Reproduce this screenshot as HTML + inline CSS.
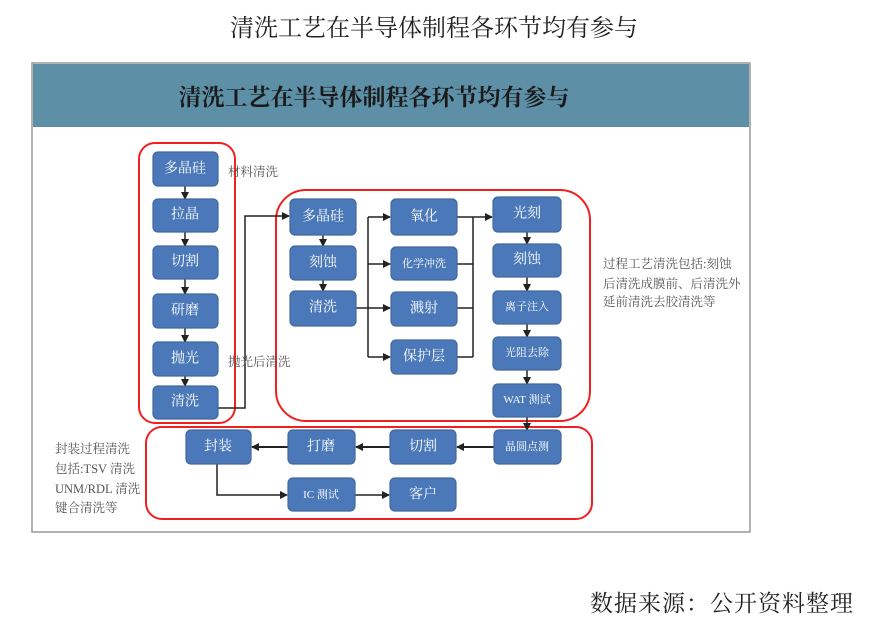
<!DOCTYPE html>
<html><head><meta charset="utf-8"><style>
body{margin:0;background:#fff;width:869px;height:629px;overflow:hidden}
svg text{font-family:"Liberation Serif","Noto Serif CJK SC","Noto Sans CJK SC",serif}
.b{fill:#4a78b8;stroke:#44689c;stroke-width:1.2}
.t{fill:#fff;font-size:14px;text-anchor:middle;dominant-baseline:central}
.s{font-size:11px}
.l{stroke:#222;stroke-width:1.5;fill:none}
.r{fill:none;stroke:#f02020;stroke-width:2}
.a{font-size:12.5px;fill:#555}
</style></head><body>
<svg width="869" height="629" viewBox="0 0 869 629">
<defs><marker id="m" markerWidth="8" markerHeight="8" refX="7" refY="4" orient="auto" markerUnits="userSpaceOnUse"><path d="M0,0 L8,4 L0,8 z" fill="#222"/></marker></defs>
<text x="434" y="36" font-size="24" text-anchor="middle" fill="#222">清洗工艺在半导体制程各环节均有参与</text>
<rect x="32" y="63" width="718" height="469" fill="#fff" stroke="#999" stroke-width="1.5"/>
<rect x="33" y="64" width="716" height="63" fill="#5d8fa6"/>
<text x="374" y="105" font-size="23" font-weight="bold" text-anchor="middle" fill="#1a1a1a">清洗工艺在半导体制程各环节均有参与</text>

<rect class="r" x="139" y="143" width="96" height="280" rx="16"/>
<rect class="r" x="276" y="190" width="314" height="231" rx="30"/>
<rect class="r" x="146" y="427" width="446" height="92" rx="16"/>

<g class="l">
<path d="M185,186V199" marker-end="url(#m)"/><path d="M185,232V246" marker-end="url(#m)"/>
<path d="M185,279V294" marker-end="url(#m)"/><path d="M185,328V342" marker-end="url(#m)"/>
<path d="M185,376V386" marker-end="url(#m)"/>
<path d="M218,408H245V216H289" marker-end="url(#m)"/>
<path d="M323,235V246" marker-end="url(#m)"/><path d="M323,280V291" marker-end="url(#m)"/>
<path d="M356,308H368"/><path d="M368,217V357"/>
<path d="M368,217H390" marker-end="url(#m)"/><path d="M368,264H390" marker-end="url(#m)"/>
<path d="M368,308H390" marker-end="url(#m)"/><path d="M368,357H390" marker-end="url(#m)"/>
<path d="M457,217H473M457,264H473M457,308H473M457,357H473M473,217V357"/>
<path d="M473,217H492" marker-end="url(#m)"/>
<path d="M527,232V244" marker-end="url(#m)"/><path d="M527,277V291" marker-end="url(#m)"/>
<path d="M527,324V337" marker-end="url(#m)"/><path d="M527,370V384" marker-end="url(#m)"/>
<path d="M527,417V430" marker-end="url(#m)"/>
<path d="M494,447H457" marker-end="url(#m)" stroke-width="2"/>
<path d="M390,447H356" marker-end="url(#m)" stroke-width="2"/>
<path d="M288,447H252" marker-end="url(#m)" stroke-width="2"/>
<path d="M217,464V495H287" marker-end="url(#m)"/>
<path d="M355,495H389" marker-end="url(#m)"/>
</g>

<rect class="b" x="153" y="152" width="65" height="34" rx="5"/><text class="t" x="185" y="169">多晶硅</text>
<rect class="b" x="153" y="199" width="65" height="33" rx="5"/><text class="t" x="185" y="215">拉晶</text>
<rect class="b" x="153" y="246" width="65" height="33" rx="5"/><text class="t" x="185" y="262">切割</text>
<rect class="b" x="153" y="294" width="65" height="34" rx="5"/><text class="t" x="185" y="311">研磨</text>
<rect class="b" x="153" y="342" width="65" height="34" rx="5"/><text class="t" x="185" y="359">抛光</text>
<rect class="b" x="153" y="386" width="65" height="33" rx="5"/><text class="t" x="185" y="402">清洗</text>

<rect class="b" x="290" y="199" width="66" height="36" rx="5"/><text class="t" x="323" y="217">多晶硅</text>
<rect class="b" x="290" y="246" width="66" height="34" rx="5"/><text class="t" x="323" y="263">刻蚀</text>
<rect class="b" x="290" y="291" width="66" height="35" rx="5"/><text class="t" x="323" y="308">清洗</text>

<rect class="b" x="391" y="199" width="66" height="36" rx="5"/><text class="t" x="424" y="217">氧化</text>
<rect class="b" x="391" y="247" width="66" height="33" rx="5"/><text class="t s" x="424" y="264">化学冲洗</text>
<rect class="b" x="391" y="292" width="66" height="34" rx="5"/><text class="t" x="424" y="309">溅射</text>
<rect class="b" x="391" y="340" width="66" height="34" rx="5"/><text class="t" x="424" y="357">保护层</text>

<rect class="b" x="493" y="197" width="68" height="35" rx="5"/><text class="t" x="527" y="214">光刻</text>
<rect class="b" x="493" y="244" width="68" height="33" rx="5"/><text class="t" x="527" y="260">刻蚀</text>
<rect class="b" x="493" y="291" width="68" height="33" rx="5"/><text class="t s" x="527" y="307">离子注入</text>
<rect class="b" x="493" y="337" width="68" height="33" rx="5"/><text class="t s" x="527" y="353">光阻去除</text>
<rect class="b" x="493" y="384" width="68" height="33" rx="5"/><text class="t s" x="527" y="400">WAT 测试</text>

<rect class="b" x="186" y="430" width="65" height="34" rx="5"/><text class="t" x="218" y="447">封装</text>
<rect class="b" x="288" y="430" width="67" height="34" rx="5"/><text class="t" x="321" y="447">打磨</text>
<rect class="b" x="390" y="430" width="66" height="34" rx="5"/><text class="t" x="423" y="447">切割</text>
<rect class="b" x="494" y="430" width="67" height="34" rx="5"/><text class="t s" x="527" y="447">晶圆点测</text>
<rect class="b" x="288" y="478" width="67" height="33" rx="5"/><text class="t s" x="321" y="495">IC 测试</text>
<rect class="b" x="390" y="478" width="66" height="33" rx="5"/><text class="t" x="423" y="495">客户</text>

<text class="a" x="228" y="176">材料清洗</text>
<text class="a" x="228" y="366">抛光后清洗</text>
<text class="a" x="603" y="268">过程工艺清洗包括:刻蚀</text>
<text class="a" x="603" y="288">后清洗成膜前、后清洗外</text>
<text class="a" x="603" y="306">延前清洗去胶清洗等</text>
<text class="a" x="55" y="453">封装过程清洗</text>
<text class="a" x="55" y="473">包括:TSV 清洗</text>
<text class="a" x="55" y="493">UNM/RDL 清洗</text>
<text class="a" x="55" y="512">键合清洗等</text>

<text x="590" y="611" font-size="23" letter-spacing="1" fill="#222">数据来源：公开资料整理</text>
</svg>
</body></html>
